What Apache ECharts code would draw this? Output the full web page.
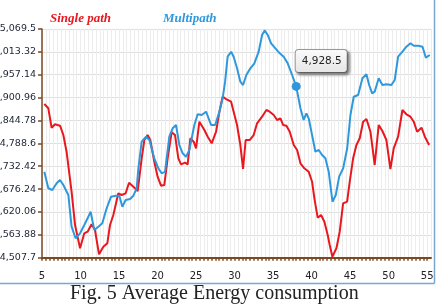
<!DOCTYPE html>
<html>
<head>
<meta charset="utf-8">
<script src="https://cdn.jsdelivr.net/npm/echarts@6/dist/echarts.min.js"></script>
<style>
html,body{margin:0;padding:0;background:#fff;}
#c{width:437px;height:306px;}
</style>
</head>
<body>
<div id="c"></div>
<script>
// ---- data ----
const seriesNames = ['Single path', 'Multipath'];

const singleX = [5.30,5.82,6.25,6.69,7.34,7.77,8.19,8.84,9.29,9.94,10.49,10.92,11.44,11.88,12.40,12.96,13.48,13.83,14.26,14.91,15.34,15.86,16.30,16.86,17.42,17.94,18.29,18.71,19.06,19.58,20.01,20.45,20.88,21.31,21.83,22.27,22.70,23.05,23.57,23.91,24.26,24.69,25.00,25.43,26.08,26.51,27.03,27.60,28.03,28.45,28.90,29.55,29.88,30.32,30.75,31.10,31.44,31.96,32.48,32.92,33.57,34.13,34.56,35.08,35.52,35.95,36.30,36.73,37.16,37.68,38.12,38.55,39.06,39.62,40.06,40.36,40.79,41.23,41.66,42.09,42.35,42.70,43.22,43.65,44.09,44.61,44.95,45.39,45.82,46.25,46.69,47.12,47.64,48.19,48.71,49.19,49.71,50.23,50.66,51.23,51.79,52.31,52.83,53.26,53.70,54.27,54.70,55.26];
const singleY = [4885.3,4874.7,4827.0,4835.4,4832.0,4809.1,4768.1,4669.8,4588.0,4530.8,4567.6,4571.6,4589.7,4575.7,4516.1,4534.7,4543.1,4588.0,4612.6,4665.9,4661.7,4665.9,4691.9,4682.1,4671.5,4751.9,4796.8,4809.1,4796.8,4743.5,4706.7,4684.6,4686.3,4751.9,4815.7,4809.1,4751.9,4737.1,4741.1,4737.1,4801.0,4792.7,4776.4,4841.8,4821.4,4804.9,4788.7,4817.2,4866.3,4903.2,4897.5,4890.9,4866.3,4833.7,4784.5,4725.6,4796.8,4796.8,4809.1,4837.9,4854.1,4870.5,4866.3,4858.2,4846.0,4850.1,4833.7,4832.0,4817.2,4784.5,4772.3,4739.6,4727.3,4719.0,4694.4,4653.6,4606.0,4612.6,4596.1,4563.5,4538.9,4510.2,4530.8,4571.6,4641.3,4645.3,4694.4,4751.9,4784.5,4801.0,4841.8,4848.4,4817.2,4735.4,4833.7,4818.9,4796.8,4725.6,4776.4,4804.9,4870.5,4860.0,4854.1,4841.8,4817.2,4827.0,4804.9,4784.5];

const multiX = [5.30,5.82,6.34,6.90,7.34,7.77,8.42,8.84,9.36,9.94,10.49,10.92,11.31,11.79,12.31,12.83,13.39,13.96,14.56,15.04,15.43,15.86,16.43,16.86,17.29,17.51,17.94,18.51,18.94,19.58,20.10,20.53,20.97,21.53,21.96,22.40,22.83,23.26,23.70,24.13,24.78,25.21,25.73,26.30,26.95,27.47,28.03,28.45,28.77,29.10,29.55,29.88,30.32,30.75,31.10,31.53,32.05,32.57,33.13,33.57,33.91,34.30,34.74,35.30,35.86,36.38,36.90,37.47,38.00,38.55,38.97,39.32,39.62,40.06,40.49,40.92,41.36,41.79,42.22,42.71,43.14,43.58,44.10,44.62,45.04,45.47,46.04,46.60,47.12,47.47,47.86,48.19,48.71,49.19,49.71,50.36,50.79,51.23,51.79,52.31,52.83,53.26,53.83,54.40,54.83,55.34];
const multiY = [4719.0,4678.2,4674.0,4690.5,4698.6,4686.3,4661.7,4583.9,4555.4,4567.6,4588.0,4604.5,4620.7,4575.7,4583.9,4592.2,4629.1,4657.5,4660.0,4660.0,4633.0,4649.4,4651.9,4660.0,4678.2,4727.3,4792.7,4804.9,4796.8,4751.9,4727.3,4715.0,4719.0,4804.9,4825.6,4833.7,4784.5,4764.2,4755.8,4772.3,4833.7,4860.0,4858.2,4866.3,4833.7,4833.7,4866.3,4899.3,4940.0,5001.5,5013.7,5001.5,4973.0,4940.0,4931.9,4956.5,4973.0,4985.2,5013.7,5054.8,5066.0,5054.8,5034.4,5022.1,5009.8,5001.5,4985.2,4956.5,4928.5,4874.7,4846.0,4862.4,4850.1,4809.1,4768.1,4772.3,4760.0,4751.9,4719.0,4645.3,4661.7,4706.7,4727.3,4776.4,4858.2,4903.2,4907.4,4948.4,4958.2,4931.9,4911.5,4915.5,4948.4,4931.9,4933.7,4931.9,4944.2,5001.5,5013.7,5026.0,5034.4,5028.5,5028.5,5026.0,4999.0,5005.6];

// highlighted point (tooltip in the reference)
const tipX = 38.00;
const tipY = 4928.5;

const yTickValues = [4507.7,4563.88,4620.06,4676.24,4732.42,4788.6,4844.78,4900.96,4957.14,5013.32,5069.5];
const yTickLabels = ['4,507.7','4,563.88','4,620.06','4,676.24','4,732.42','4,788.6','4,844.78','4,900.96','4,957.14','5,013.32','5,069.5'];
const xTickValues = [5,10,15,20,25,30,35,40,45,50,55];
const xTickLabels = ['5','10','15','20','25','30','35','40','45','50','55'];

const caption = 'Fig. 5 Average Energy consumption';

// ---- chart ----
const RED = '#e8181e';
const BLUE = '#2f98dc';
const BROWN = '#7b4a22';

function pairs(xs, ys){ return xs.map((x,i)=>[x, ys[i]]); }

const chart = echarts.init(document.getElementById('c'), null, {renderer:'canvas'});
chart.setOption({
  animation: false,
  backgroundColor: '#fff',
  legend: {
    left: 40, top: 7,
    itemWidth: 0, itemHeight: 0, itemGap: 47,
    icon: 'rect',
    textStyle: {fontFamily: 'Liberation Serif', fontStyle: 'italic', fontWeight: 'bold', fontSize: 13},
    data: [
      {name: seriesNames[0], textStyle: {color: RED}},
      {name: seriesNames[1], textStyle: {color: BLUE}}
    ]
  },
  grid: {left: 42, top: 29, right: 6, bottom: 48.3, containLabel: false, outerBoundsMode: 'none'},
  xAxis: {
    type: 'value', min: 5, max: 55.5, interval: 0.5,
    axisLine: {show: true, lineStyle: {color: BROWN, width: 2}},
    axisTick: {show: true, length: 3, lineStyle: {color: BROWN, width: 1.5}},
    splitLine: {show: true, lineStyle: {color: '#ececec', width: 1}},
    axisLabel: {
      margin: 14, fontSize: 10, fontFamily: 'DejaVu Sans', color: '#222',
      showMaxLabel: false,
      formatter: function(v){
        const i = xTickValues.findIndex(t => Math.abs(t - v) < 1e-6);
        return i >= 0 ? xTickLabels[i] : '';
      }
    }
  },
  yAxis: {
    type: 'value', min: yTickValues[0], max: yTickValues[yTickValues.length-1],
    axisLine: {show: true, lineStyle: {color: BROWN, width: 1.5}},
    axisTick: {show: true, length: 4, customValues: yTickValues, lineStyle: {color: BROWN, width: 1.5}},
    splitLine: {show: true, lineStyle: {color: '#dedede', width: 1}},
    axisLabel: {
      margin: 6, fontSize: 9.5, fontFamily: 'DejaVu Sans', color: '#1c2333',
      customValues: yTickValues,
      formatter: function(v){
        const i = yTickValues.findIndex(t => Math.abs(t - v) < 1e-3);
        return i >= 0 ? yTickLabels[i] : '';
      }
    }
  },
  series: [
    {
      name: seriesNames[0], type: 'line', data: pairs(singleX, singleY),
      showSymbol: false, symbol: 'none',
      lineStyle: {color: RED, width: 2}, itemStyle: {color: RED}
    },
    {
      name: seriesNames[1], type: 'line', data: pairs(multiX, multiY),
      showSymbol: false, symbol: 'none',
      lineStyle: {color: BLUE, width: 2}, itemStyle: {color: BLUE},
      markPoint: {
        symbol: 'circle', symbolSize: 9,
        itemStyle: {color: BLUE},
        data: [{coord: [tipX, tipY], value: tipY}],
        label: {
          show: true,
          position: [4, -32],
          align: 'left', verticalAlign: 'top',
          formatter: function(p){ return echarts.format.addCommas(p.value); },
          color: '#222', fontSize: 10.5, fontFamily: 'DejaVu Sans',
          backgroundColor: {type:'linear', x:0, y:0, x2:0, y2:1, colorStops:[{offset:0,color:'#fbfbfb'},{offset:1,color:'#e6e6e6'}]},
          borderColor: '#9a9a9a', borderWidth: 1, borderRadius: 3,
          padding: [6, 5, 5, 6],
          shadowColor: 'rgba(0,0,0,0.45)', shadowBlur: 3, shadowOffsetX: 2, shadowOffsetY: 2
        }
      }
    }
  ],
  graphic: [
    {type: 'line', shape: {x1: 0, y1: 283.5, x2: 434.5, y2: 283.5}, style: {stroke: '#7aa6d6', lineWidth: 1.5}},
    {type: 'line', shape: {x1: 434.5, y1: 0, x2: 434.5, y2: 283.5}, style: {stroke: '#7aa6d6', lineWidth: 1.5}},
    {type: 'text', left: 70, top: 284, style: {text: caption, font: '20px "Liberation Serif"', fill: '#222'}}
  ]
});
</script>
</body>
</html>
